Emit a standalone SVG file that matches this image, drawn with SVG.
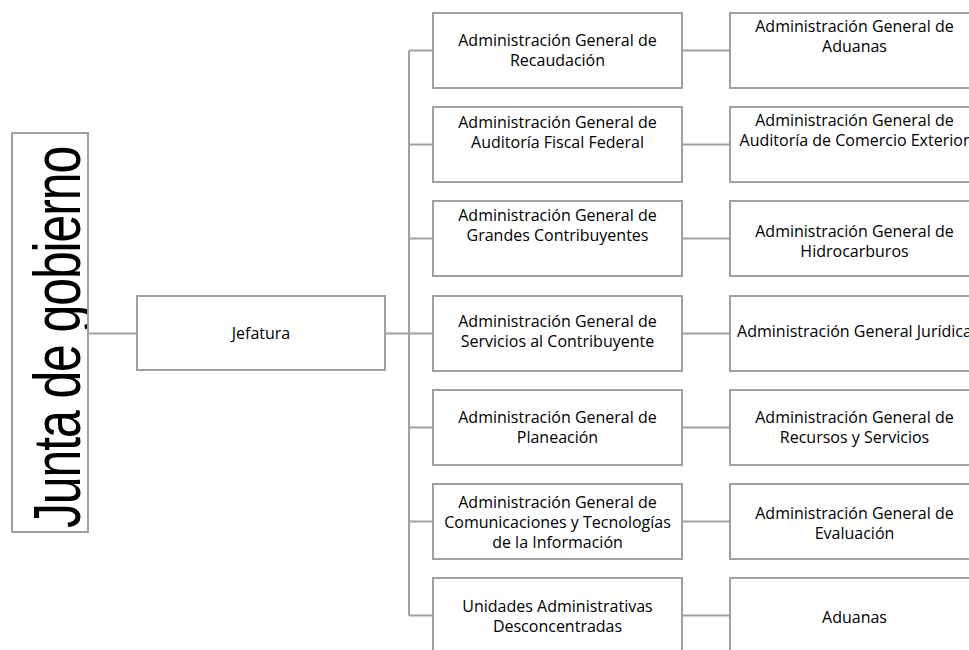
<svg xmlns="http://www.w3.org/2000/svg" width="969" height="650" viewBox="0 0 969 650">
<style>
.box{fill:#fff;stroke:#a0a0a0;stroke-width:2}
.ln{fill:none;stroke:#a0a0a0;stroke-width:2}
.t{font-family:"Open Sans","Noto Sans","Liberation Sans",sans-serif;font-size:16px;fill:#000;text-anchor:middle}
.big{font-family:"Liberation Sans",Arial,sans-serif;font-size:66px;fill:#000;letter-spacing:-1.5px}
</style>
<defs>
<clipPath id="jclip"><rect x="12" y="133" width="77" height="399"/></clipPath>
</defs>
<rect width="969" height="650" fill="#fff"/>
<g id="connectors">
<path class="ln" d="M88 333.5H137M385 333.5H433M409 50.5V615.5M409 50.5H433M409 144.5H433M409 238.5H433M409 427.5H433M409 521.5H433M409 615.5H433"/>
<path class="ln" d="M682 50.5H730M682 144.5H730M682 238.5H730M682 333.5H730M682 427.5H730M682 521.5H730M682 615.5H730"/>
</g>
<g id="junta">
<rect x="12" y="133" width="76" height="399" fill="#fff"/>
<g clip-path="url(#jclip)">
<text class="big" transform="translate(80,528) rotate(-90) scale(0.758,1)">Junta de gobierno</text>
</g>
<rect x="12" y="133" width="76" height="399" fill="none" stroke="#a0a0a0" stroke-width="2"/>
</g>
<g id="jefatura">
<rect class="box" x="137" y="296" width="248" height="74"/>
<text class="t" x="261" y="339">Jefatura</text>
</g>
<g id="recaudacion">
<rect class="box" x="433" y="13" width="249" height="75"/>
<text class="t" x="557.5" y="46">Administración General de</text>
<text class="t" x="557.5" y="66">Recaudación</text>
</g>
<g id="auditoria-fiscal">
<rect class="box" x="433" y="107" width="249" height="75"/>
<text class="t" x="557.5" y="128">Administración General de</text>
<text class="t" x="557.5" y="148">Auditoría Fiscal Federal</text>
</g>
<g id="grandes-contribuyentes">
<rect class="box" x="433" y="201" width="249" height="75"/>
<text class="t" x="557.5" y="221">Administración General de</text>
<text class="t" x="557.5" y="241">Grandes Contribuyentes</text>
</g>
<g id="servicios-contribuyente">
<rect class="box" x="433" y="296" width="249" height="75"/>
<text class="t" x="557.5" y="327">Administración General de</text>
<text class="t" x="557.5" y="347">Servicios al Contribuyente</text>
</g>
<g id="planeacion">
<rect class="box" x="433" y="390" width="249" height="75"/>
<text class="t" x="557.5" y="423">Administración General de</text>
<text class="t" x="557.5" y="443">Planeación</text>
</g>
<g id="comunicaciones">
<rect class="box" x="433" y="484" width="249" height="75"/>
<text class="t" x="557.5" y="508">Administración General de</text>
<text class="t" x="557.5" y="528">Comunicaciones y Tecnologías</text>
<text class="t" x="557.5" y="548">de la Información</text>
</g>
<g id="unidades-desconcentradas">
<rect class="box" x="433" y="578" width="249" height="75"/>
<text class="t" x="557.5" y="612">Unidades Administrativas</text>
<text class="t" x="557.5" y="632">Desconcentradas</text>
</g>
<g id="aduanas-general">
<rect class="box" x="730" y="13" width="249" height="75"/>
<text class="t" x="854.5" y="32">Administración General de</text>
<text class="t" x="854.5" y="52">Aduanas</text>
</g>
<g id="auditoria-comercio">
<rect class="box" x="730" y="107" width="249" height="75"/>
<text class="t" x="854.5" y="126">Administración General de</text>
<text class="t" x="854.5" y="146">Auditoría de Comercio Exterior</text>
</g>
<g id="hidrocarburos">
<rect class="box" x="730" y="201" width="249" height="75"/>
<text class="t" x="854.5" y="237">Administración General de</text>
<text class="t" x="854.5" y="257">Hidrocarburos</text>
</g>
<g id="juridica">
<rect class="box" x="730" y="296" width="249" height="75"/>
<text class="t" x="854.5" y="337">Administración General Jurídica</text>
</g>
<g id="recursos-servicios">
<rect class="box" x="730" y="390" width="249" height="75"/>
<text class="t" x="854.5" y="423">Administración General de</text>
<text class="t" x="854.5" y="443">Recursos y Servicios</text>
</g>
<g id="evaluacion">
<rect class="box" x="730" y="484" width="249" height="75"/>
<text class="t" x="854.5" y="519">Administración General de</text>
<text class="t" x="854.5" y="539">Evaluación</text>
</g>
<g id="aduanas">
<rect class="box" x="730" y="578" width="249" height="75"/>
<text class="t" x="854.5" y="623">Aduanas</text>
</g>
</svg>
